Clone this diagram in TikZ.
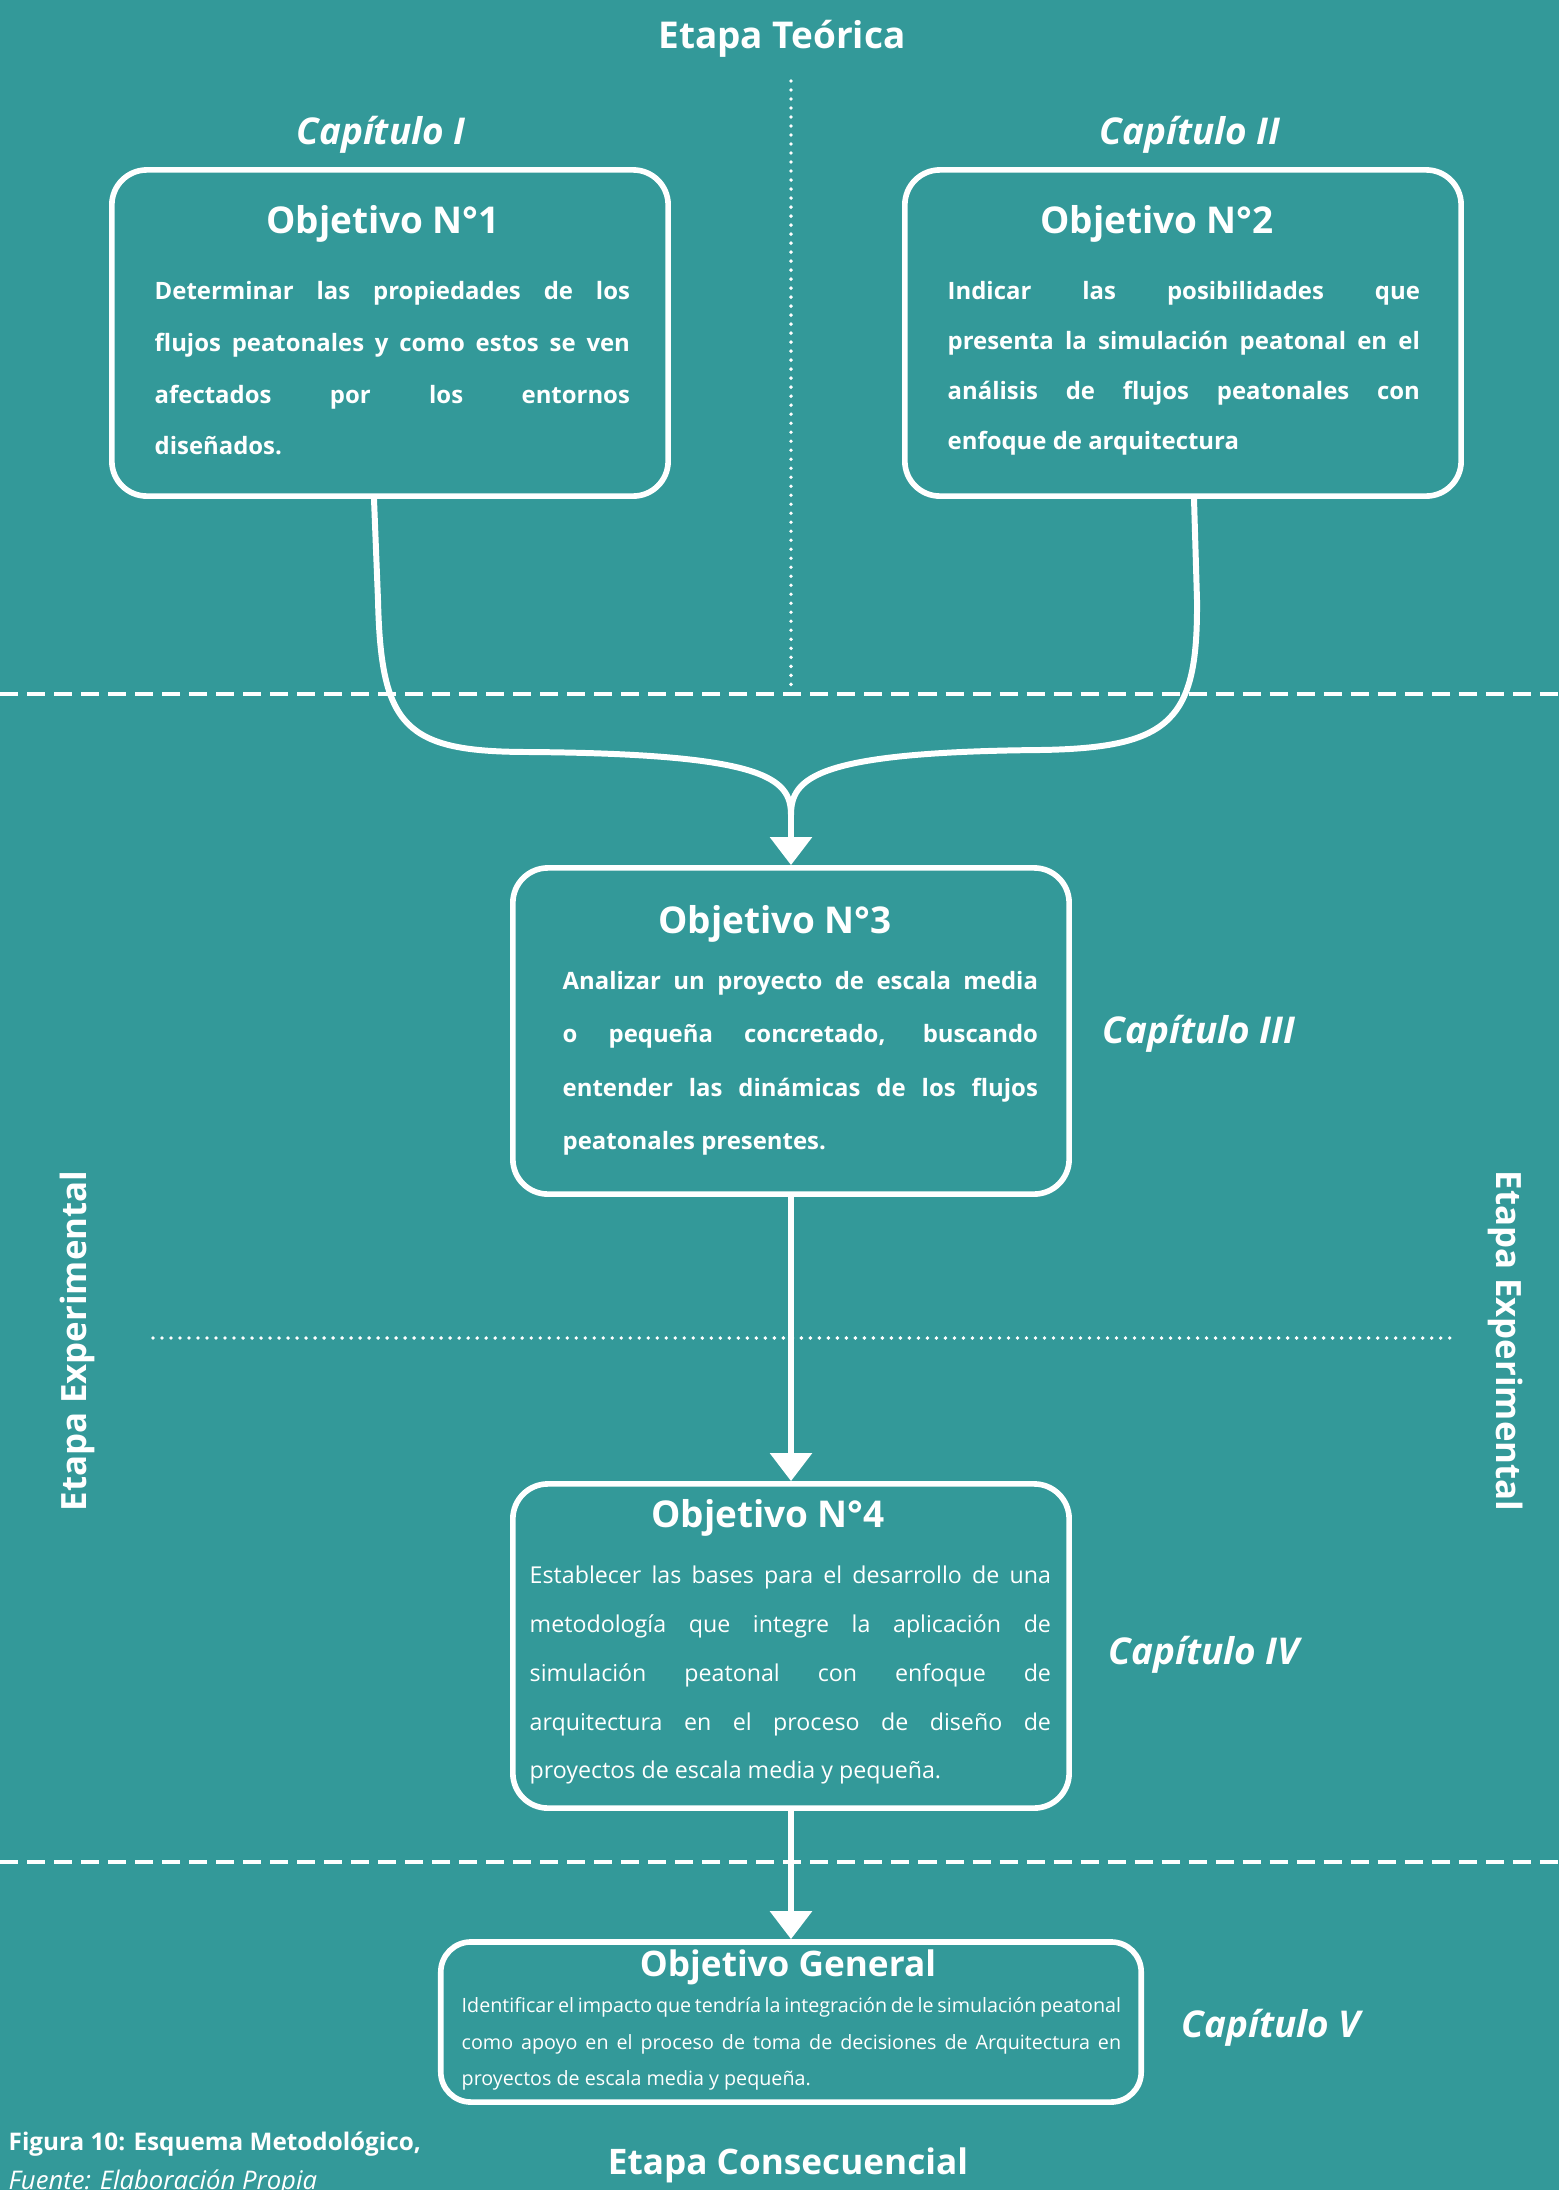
\documentclass[tikz,border=0pt]{standalone}
\usepackage{fontspec}
\setmainfont{Open Sans}
\usetikzlibrary{arrows.meta,positioning,calc}
\definecolor{etapateal}{RGB}{51,153,153}
\tikzset{
    objbox/.style={rectangle, draw=white, line width=1.6pt, rounded corners=0.35cm, minimum width=5.56cm, minimum height=3.26cm},
    objtitle/.style={text=white, font=\bfseries\fontsize{10.5}{12}\selectfont},
    objtext/.style={text=white, align=justify, inner sep=0pt, anchor=north west},
    chapter/.style={text=white, font=\bfseries\itshape\fontsize{10.5}{12}\selectfont},
    stage/.style={text=white, font=\bfseries\fontsize{10.5}{12}\selectfont},
    line/.style={draw=white, line width=1.7pt, -{Triangle[width=0.41cm,length=0.28cm]}},
    flow/.style={draw=white, line width=1.7pt},
    divider/.style={draw=white, line width=1.3pt, dash pattern=on 0.18cm off 0.09cm},
    dotline/.style={draw=white, line width=1.1pt, line cap=round, dash pattern=on 0pt off 0.09cm}
}

\begin{document}
\begin{tikzpicture}[x=0.01cm, y=-0.01cm]
    % Background
    \fill[etapateal] (0,0) rectangle (1559,2190);
    \useasboundingbox (0,0) rectangle (1559,2190);

    % Dividers
    \draw[divider] (0,694) -- (1559,694);
    \draw[divider] (0,1862) -- (1559,1862);
    \draw[dotline] (791,81) -- (791,688);
    \draw[dotline] (153,1338) -- (1453,1338);

    % Stages
    \node [stage] (teorica) at (782,39) {Etapa Teórica};
    \node [stage, font=\bfseries\fontsize{10}{12}\selectfont] (consec) at (788,2165) {Etapa Consecuencial};
    \node [stage, font=\bfseries\fontsize{9.9}{12}\selectfont, rotate=90] (expleft) at (77,1341) {Etapa Experimental};
    \node [stage, font=\bfseries\fontsize{9.9}{12}\selectfont, rotate=-90] (expright) at (1506,1341) {Etapa Experimental};

    % Objective boxes
    \node [objbox] (ob1) at (390,333) {};
    \node [objbox] (ob2) at (1183,333) {};
    \node [objbox] (ob3) at (791,1031) {};
    \node [objbox, minimum height=3.24cm] (ob4) at (791,1646) {};
    \node [objbox, minimum width=7cm, minimum height=1.6cm, rounded corners=0.3cm] (obg) at (791,2022) {};

    % Titles
    \node [objtitle] (t1) at (383,224) {Objetivo N°1};
    \node [objtitle] (t2) at (1157,224) {Objetivo N°2};
    \node [objtitle] (t3) at (775,924) {Objetivo N°3};
    \node [objtitle] (t4) at (768,1518) {Objetivo N°4};
    \node [objtitle, font=\bfseries\fontsize{10}{12}\selectfont] (tg) at (788,1967) {Objetivo General};

    % Texts
    \node [objtext, text width=4.75cm, font=\bfseries\fontsize{6.8}{14.7}\selectfont] (x1) at (154,281) {Determinar las propiedades de los\linebreak flujos peatonales y como estos se ven\linebreak afectados por los entornos\linebreak diseñados.};
    \node [objtext, text width=4.72cm, font=\bfseries\fontsize{6.8}{14.2}\selectfont] (x2) at (947,281) {Indicar las posibilidades que\linebreak presenta la simulación peatonal en el\linebreak análisis de flujos peatonales con\linebreak enfoque de arquitectura};
    \node [objtext, text width=4.75cm, font=\bfseries\fontsize{6.8}{15.1}\selectfont] (x3) at (562,971) {Analizar un proyecto de escala media\linebreak o pequeña concretado, buscando\linebreak entender las dinámicas de los flujos\linebreak peatonales presentes.};
    \node [objtext, text width=5.21cm, font=\fontsize{6.6}{13.9}\selectfont] (x4) at (529,1565) {Establecer las bases para el desarrollo de una\linebreak metodología que integre la aplicación de\linebreak simulación peatonal con enfoque de\linebreak arquitectura en el proceso de diseño de\linebreak proyectos de escala media y pequeña.};
    \node [objtext, text width=6.59cm, font=\fontsize{5.6}{10.4}\selectfont] (xg) at (461,1997) {Identificar el impacto que tendría la integración de le simulación peatonal\linebreak como apoyo en el proceso de toma de decisiones de Arquitectura en\linebreak proyectos de escala media y pequeña.};

    % Chapters
    \node [chapter] (c1) at (381,135) {Capítulo I};
    \node [chapter] (c2) at (1190,135) {Capítulo II};
    \node [chapter] (c3) at (1199,1034) {Capítulo III};
    \node [chapter] (c4) at (1204,1655) {Capítulo IV};
    \node [chapter] (c5) at (1271,2028) {Capítulo V};

    % Connections
    \coordinate (merge) at (791,815);
    \path [flow] ([xshift=-0.16cm]ob1.south) -- (378,600) .. controls (381,728) and (405,752) .. (530,752) .. controls (765,754) and (791,778) .. (merge);
    \path [flow] ([xshift=0.11cm]ob2.south) -- (1197,600) .. controls (1198,720) and (1172,748) .. (1040,750) .. controls (815,752) and (791,778) .. (merge);
    \path [line] (merge) -- (ob3.north);
    \path [line] (ob3.south) -- (ob4.north);
    \path [line] (ob4.south) -- (obg.north);

    % Caption
    \node [text=white, anchor=west, inner sep=0pt, font=\bfseries\fontsize{6.9}{8}\selectfont] (fig) at (8,2144) {Figura 10: Esquema Metodológico,};
    \node [text=white, anchor=west, inner sep=0pt, font=\itshape\fontsize{7.3}{8}\selectfont] (src) at (8,2183) {Fuente: Elaboración Propia};
\end{tikzpicture}
\end{document}
